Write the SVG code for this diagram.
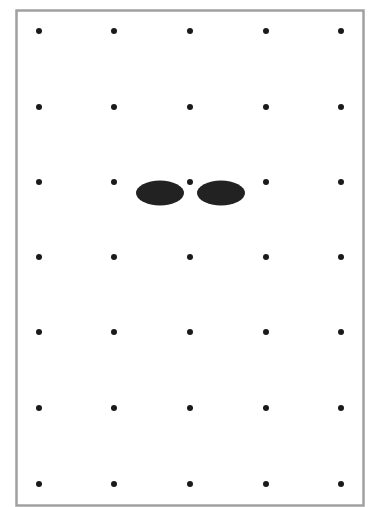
<svg xmlns="http://www.w3.org/2000/svg" width="369" height="507" viewBox="0 0 369 507">
<style>
.d{fill:#1a1a1a}
.e{fill:#222}
</style>
<defs><circle id="dot" r="3" class="d"/></defs>
<rect width="369" height="507" fill="#fff"/>
<rect x="16.5" y="10.5" width="347" height="495" fill="#fff" stroke="#a0a0a0" stroke-width="2.5"/>
<g id="dots">
<use href="#dot" x="39" y="31"/><use href="#dot" x="114" y="31"/><use href="#dot" x="190" y="31"/><use href="#dot" x="266" y="31"/><use href="#dot" x="341" y="31"/>
<use href="#dot" x="39" y="107"/><use href="#dot" x="114" y="107"/><use href="#dot" x="190" y="107"/><use href="#dot" x="266" y="107"/><use href="#dot" x="341" y="107"/>
<use href="#dot" x="39" y="182"/><use href="#dot" x="114" y="182"/><use href="#dot" x="190" y="182"/><use href="#dot" x="266" y="182"/><use href="#dot" x="341" y="182"/>
<use href="#dot" x="39" y="257"/><use href="#dot" x="114" y="257"/><use href="#dot" x="190" y="257"/><use href="#dot" x="266" y="257"/><use href="#dot" x="341" y="257"/>
<use href="#dot" x="39" y="332"/><use href="#dot" x="114" y="332"/><use href="#dot" x="190" y="332"/><use href="#dot" x="266" y="332"/><use href="#dot" x="341" y="332"/>
<use href="#dot" x="39" y="408"/><use href="#dot" x="114" y="408"/><use href="#dot" x="190" y="408"/><use href="#dot" x="266" y="408"/><use href="#dot" x="341" y="408"/>
<use href="#dot" x="39" y="484"/><use href="#dot" x="114" y="484"/><use href="#dot" x="190" y="484"/><use href="#dot" x="266" y="484"/><use href="#dot" x="341" y="484"/>
</g>
<g id="ellipse-left"><ellipse cx="160" cy="193" rx="24" ry="12.5" class="e"/></g>
<g id="ellipse-right"><ellipse cx="221" cy="193" rx="24" ry="12.5" class="e"/></g>
</svg>
